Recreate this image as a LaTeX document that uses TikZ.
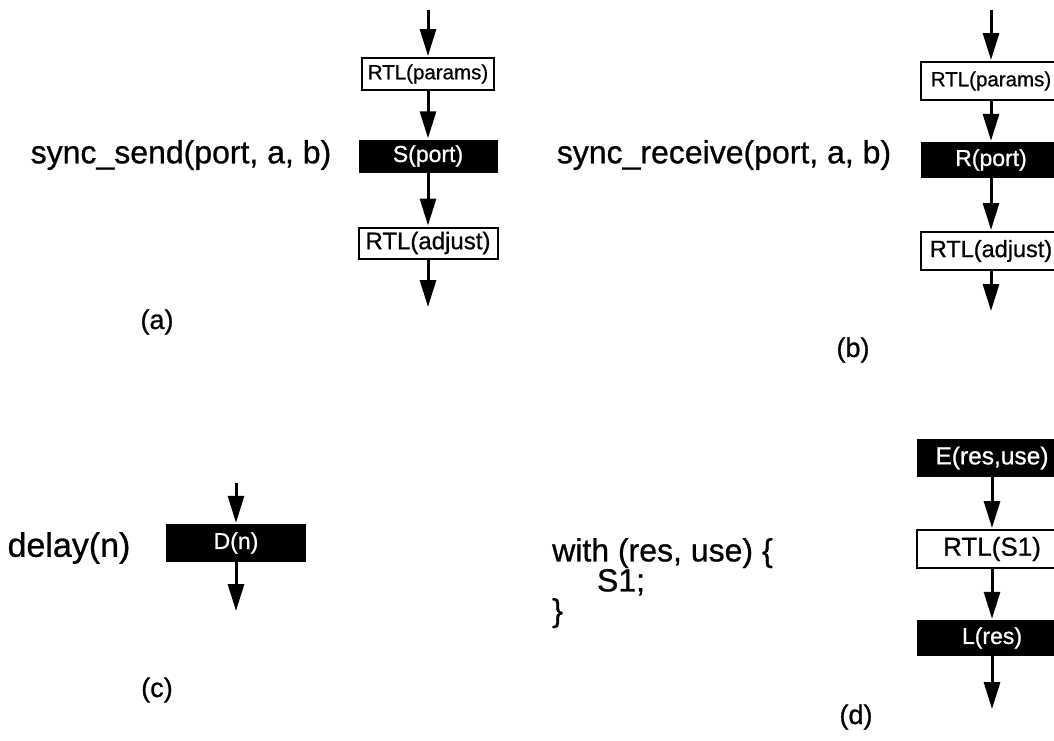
\documentclass[tikz,border=0pt]{standalone}
\usepackage{fontspec}
\setmainfont{Liberation Sans}[FakeBold=0.8]
\usepackage{tikz}
\usetikzlibrary{arrows.meta}

\begin{document}
\begin{tikzpicture}[
		x=1pt, y=-1pt,
		>={Triangle[length=27pt,width=16pt]},
		flow/.style={->, line width=3pt, shorten >=1pt},
		rtl/.style={draw, line width=2pt, fill=white, inner sep=0pt},
		blk/.style={fill=black, text=white, inner sep=0pt},
		call/.style={font=\fontsize{32}{30}\selectfont},
		tag/.style={font=\fontsize{27}{27}\selectfont}
		]
		
		\useasboundingbox (0,0) rectangle (1054,740);
		
		% (a) sync_send
		\node[call] (codeA) at (181,155) {sync\_send(port, a, b)};
		\coordinate (inA) at (428,10);
		\node[rtl, minimum width=132, minimum height=32, font=\fontsize{20.5}{20}\selectfont] (parA) at (428,74) {RTL(params)};
		\node[blk, minimum width=139, minimum height=33, font=\fontsize{23}{23}\selectfont] (sA) at (428,156) {S(port)};
		\node[rtl, minimum width=139, minimum height=31, font=\fontsize{24}{24}\selectfont] (adjA) at (428,243) {RTL(adjust)};
		\coordinate (outA) at (428,308);
		\draw[flow] (inA) -- (parA);
		\draw[flow] (parA) -- (sA);
		\draw[flow] (sA) -- (adjA);
		\draw[flow] (adjA) -- (outA);
		\node[tag] (labA) at (157,322) {(a)};
		
		% (b) sync_receive
		\node[call] (codeB) at (724,155) {sync\_receive(port, a, b)};
		\coordinate (inB) at (991,10);
		\node[rtl, minimum width=140, minimum height=38, font=\fontsize{20.5}{20}\selectfont] (parB) at (991,81) {RTL(params)};
		\node[blk, minimum width=140, minimum height=36, font=\fontsize{23}{23}\selectfont] (rB) at (991,160) {R(port)};
		\node[rtl, minimum width=140, minimum height=38, font=\fontsize{23.5}{24}\selectfont] (adjB) at (991,251) {RTL(adjust)};
		\coordinate (outB) at (991,312);
		\draw[flow] (inB) -- (parB);
		\draw[flow] (parB) -- (rB);
		\draw[flow] (rB) -- (adjB);
		\draw[flow] (adjB) -- (outB);
		\node[tag] (labB) at (853,350) {(b)};
		
		% (c) delay
		\node[call, font=\fontsize{34}{34}\selectfont] (codeC) at (69,548) {delay(n)};
		\coordinate (inC) at (236,483);
		\node[blk, minimum width=140, minimum height=38, font=\fontsize{23}{23}\selectfont] (dC) at (236,543) {D(n)};
		\coordinate (outC) at (236,612);
		\draw[flow] (inC) -- (dC);
		\draw[flow] (dC) -- (outC);
		\node[tag] (labC) at (157,690) {(c)};
		
		% (d) with
		\node[call, align=left, anchor=north west, inner sep=0pt] (codeD) at (552,538)
		{with (res, use) \{\\\hspace*{1.4em}S1;\\\}};
		\node[blk, minimum width=150, minimum height=38, font=\fontsize{24.5}{24}\selectfont] (eD) at (992,458) {E(res,use)};
		\node[rtl, minimum width=150, minimum height=38, font=\fontsize{26}{26}\selectfont] (s1D) at (992,549) {RTL(S1)};
		\node[blk, minimum width=150, minimum height=36, font=\fontsize{23}{23}\selectfont] (lD) at (992,638) {L(res)};
		\coordinate (outD) at (992,710);
		\draw[flow] (eD) -- (s1D);
		\draw[flow] (s1D) -- (lD);
		\draw[flow] (lD) -- (outD);
		\node[tag] (labD) at (856,717) {(d)};
		
	\end{tikzpicture}
\end{document}
